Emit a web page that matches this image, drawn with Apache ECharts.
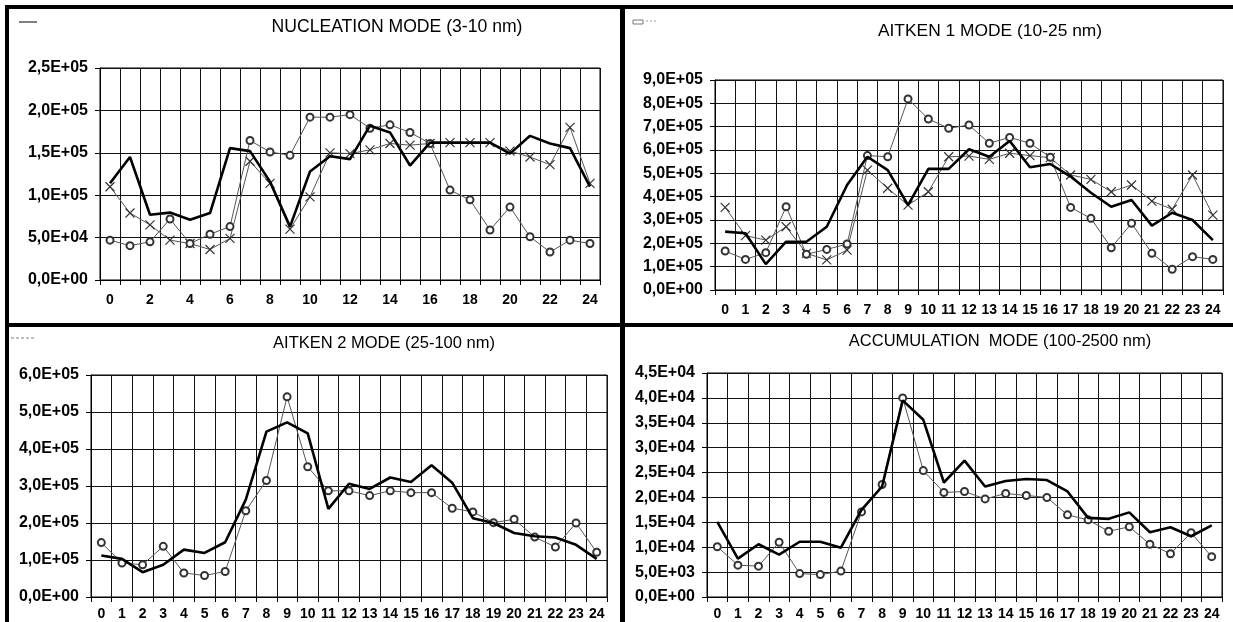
<!DOCTYPE html>
<html><head><meta charset="utf-8">
<script src="https://cdn.jsdelivr.net/npm/echarts@6/dist/echarts.min.js"></script>
<style>html,body{margin:0;padding:0;background:#fff}#c{width:1233px;height:622px}</style>
</head><body><div id="c"></div>
<script>
// ---------- DATA ----------
const hours = ['0','1','2','3','4','5','6','7','8','9','10','11','12','13','14','15','16','17','18','19','20','21','22','23','24'];

const titles = ['NUCLEATION MODE (3-10 nm)','AITKEN 1 MODE (10-25 nm)','AITKEN 2 MODE (25-100 nm)','ACCUMULATION  MODE (100-2500 nm)'];

const nucThick  = [114000,145000,77000,79500,71000,79000,155500,152000,116000,63000,128000,146000,142500,182000,174000,135000,162000,162000,162000,162000,149000,170000,161000,155500,110000];
const nucCircle = [47000,40500,45000,72000,43000,54000,63000,164500,151000,147000,192000,192000,195000,179000,183000,174000,161000,106000,94500,59000,86000,51000,33000,47000,43000];
const nucCross  = [110000,79000,65000,47000,43000,36000,49000,140000,114000,60000,98000,150000,149000,153500,161000,159000,161000,162000,162000,162000,152000,145000,136000,180000,114000];

const a1Thick  = [250000,243000,111000,207000,207000,271000,450000,571000,514000,364000,519000,519000,603000,571000,639000,526000,540000,486000,417000,357000,386000,276000,331000,300000,214000];
const a1Circle = [167000,131000,160000,357000,153000,174000,197000,576000,571000,819000,733000,693000,707000,629000,654000,629000,569000,354000,307000,181000,286000,157000,89000,143000,131000];
const a1Cross  = [354000,233000,214000,271000,157000,129000,171000,514000,436000,364000,421000,571000,574000,560000,586000,576000,567000,493000,474000,421000,450000,381000,346000,493000,321000];

const a2Thick  = [112000,103000,67000,87000,128000,119000,148000,263000,447000,472000,442000,238000,306000,292000,323000,311000,356000,309000,213000,200000,173000,164000,161000,141000,103000];
const a2Circle = [147000,92000,87000,137000,65000,58000,69000,233000,315000,541000,352000,287000,287000,274000,287000,282000,282000,240000,230000,201000,210000,162000,135000,200000,121000];

const accThick  = [15100,7700,10600,8500,11100,11100,9900,17500,22200,39500,35600,23000,27400,22200,23300,23700,23500,21200,15900,15700,17000,13000,14000,12200,14400];
const accCircle = [10100,6400,6200,11000,4700,4500,5200,17100,22600,40000,25400,21000,21200,19700,20800,20400,20000,16500,15500,13200,14100,10600,8700,12900,8100];

const yMax = [250000, 900000, 600000, 45000];
const yStep = [50000, 100000, 100000, 5000];
const xLabelEvery = [1, 0, 0, 0];

// ---------- LAYOUT / STYLE ----------
const FONT = '"Liberation Sans", Arial, sans-serif';
const grids = [
  {left:100, top:68, width:500, height:212},
  {left:715, top:80, width:508, height:210},
  {left:91,  top:375, width:516, height:222},
  {left:707, top:373, width:515, height:224}
];
const xMargins = [13, 13, 10, 10];
const titlePos = [[397,27],[990,31],[384,343],[1000,341]];
const titleSize = [17.6, 17.4, 16.5, 16.5];

function fmt(v){
  if (v === 0) return '0,0E+00';
  const p = v.toExponential(1).split('e');
  const n = parseInt(p[1],10);
  return p[0].replace('.', ',') + 'E' + (n<0?'-':'+') + String(Math.abs(n)).padStart(2,'0');
}

const black = '#000';
const xAxes = grids.map((g,i)=>({
  gridIndex:i, type:'category', data:hours, boundaryGap:true,
  axisLine:{show:true, lineStyle:{color:black, width:1}},
  axisTick:{show:true, interval:0, length:5, lineStyle:{color:black}},
  axisLabel:{interval:xLabelEvery[i], margin:xMargins[i], color:black, fontWeight:'bold', fontSize:14, fontFamily:FONT},
  splitLine:{show:true, interval:0, lineStyle:{color:'#111', width:1}}
}));
const yAxes = grids.map((g,i)=>({
  gridIndex:i, type:'value', min:0, max:yMax[i], interval:yStep[i],
  axisLine:{show:true, lineStyle:{color:black, width:1}},
  axisTick:{show:true, length:5, lineStyle:{color:black}},
  axisLabel:{formatter:fmt, margin:12, color:black, fontWeight:'bold', fontSize:16, fontFamily:FONT},
  splitLine:{show:true, lineStyle:{color:'#111', width:1}}
}));

const thick = (i,d)=>({type:'line', xAxisIndex:i, yAxisIndex:i, data:d, symbol:'none', lineStyle:{color:'#000', width:2.6}, z:5});
const circ = (i,d)=>({type:'line', xAxisIndex:i, yAxisIndex:i, data:d, symbol:'emptyCircle', symbolSize:7,
  lineStyle:{color:'#555', width:1}, itemStyle:{color:'#333', borderColor:'#333', borderWidth:1}, z:4});
const cross = (i,d)=>({type:'line', xAxisIndex:i, yAxisIndex:i, data:d, symbol:'path://M0,0L10,10M10,0L0,10', symbolSize:9,
  lineStyle:{color:'#555', width:1}, itemStyle:{color:'none', borderColor:'#333', borderWidth:1.2}, z:3});

const series = [
  cross(0,nucCross), circ(0,nucCircle), thick(0,nucThick),
  cross(1,a1Cross), circ(1,a1Circle), thick(1,a1Thick),
  circ(2,a2Circle), thick(2,a2Thick),
  circ(3,accCircle), thick(3,accThick)
];

const graphic = [];
titles.forEach((t,i)=>{
  graphic.push({type:'text', x:titlePos[i][0], y:titlePos[i][1],
    style:{text:t, font:titleSize[i]+'px '+FONT, fill:'#000', textAlign:'center', textVerticalAlign:'middle', align:'center', verticalAlign:'middle'}});
});
// panel frames
graphic.push({type:'line', shape:{x1:5,y1:7,x2:1233,y2:7}, style:{stroke:'#000', lineWidth:4}});
graphic.push({type:'line', shape:{x1:7,y1:5,x2:7,y2:622}, style:{stroke:'#000', lineWidth:4}});
graphic.push({type:'line', shape:{x1:622.5,y1:5,x2:622.5,y2:622}, style:{stroke:'#000', lineWidth:5}});
graphic.push({type:'line', shape:{x1:5,y1:325,x2:1233,y2:325}, style:{stroke:'#000', lineWidth:4}});
// faint legend remnants
graphic.push({type:'line', shape:{x1:19,y1:22,x2:37,y2:22}, style:{stroke:'#555', lineWidth:1.5}});
graphic.push({type:'rect', shape:{x:633,y:20,width:10,height:4}, style:{fill:'none', stroke:'#777', lineWidth:1}});
graphic.push({type:'line', shape:{x1:646,y1:21,x2:656,y2:21}, style:{stroke:'#999', lineWidth:1, lineDash:[2,2]}});
graphic.push({type:'line', shape:{x1:11,y1:338,x2:34,y2:338}, style:{stroke:'#aaa', lineWidth:1.5, lineDash:[3,2]}});

const chart = echarts.init(document.getElementById('c'), null, {renderer:'canvas'});
chart.setOption({
  animation:false,
  backgroundColor:'#fff',
  grid: grids.map(g=>Object.assign({show:true, borderColor:'#000', borderWidth:1, backgroundColor:'transparent'}, g)),
  xAxis:xAxes, yAxis:yAxes, series, graphic
});
</script></body></html>
